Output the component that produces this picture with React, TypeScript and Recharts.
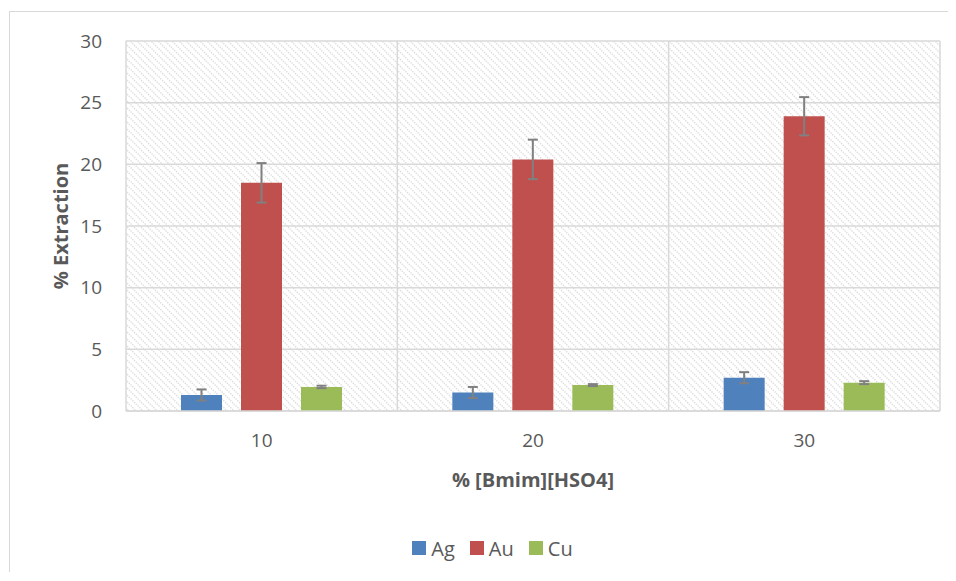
import React from 'react';
import { BarChart, Bar, XAxis, YAxis, CartesianGrid, ErrorBar, Legend } from 'recharts';

const categories = ['10', '20', '30'];
const agValues = [1.3, 1.5, 2.7];
const agErrors = [0.45, 0.45, 0.45];
const auValues = [18.5, 20.4, 23.9];
const auErrors = [1.6, 1.6, 1.55];
const cuValues = [1.95, 2.1, 2.3];
const cuErrors = [0.1, 0.08, 0.12];
const yTicks = [0, 5, 10, 15, 20, 25, 30];
const seriesNames = ['Ag', 'Au', 'Cu'];
const seriesColors = ['#4f81bd', '#c0504d', '#9bbb59'];

const data = categories.map((c, i) => ({
  category: c,
  Ag: agValues[i],
  agErr: agErrors[i],
  Au: auValues[i],
  auErr: auErrors[i],
  Cu: cuValues[i],
  cuErr: cuErrors[i],
}));

const FONT = "'Open Sans', sans-serif";
const TEXT = '#595959';
const GRID = '#d9d9d9';

const LegendContent = () => (
  <div style={{ display: 'flex', justifyContent: 'center', alignItems: 'center', height: 24, paddingLeft: 20, fontFamily: FONT, fontSize: 20, color: TEXT }}>
    {seriesNames.map((n, i) => (
      <div key={n} style={{ display: 'flex', alignItems: 'center', marginRight: i < seriesNames.length - 1 ? 15 : 0 }}>
        <div style={{ width: 14, height: 14, background: seriesColors[i], marginRight: 5 }} />
        <span>{n}</span>
      </div>
    ))}
  </div>
);

const YTitle = (props: any) => {
  const vb = props.viewBox || {};
  const cx = vb.x + 50;
  const cy = vb.y + vb.height / 2;
  return (
    <text x={cx} y={cy} transform={`rotate(-90, ${cx}, ${cy})`} textAnchor="middle" dominantBaseline="central"
      fontFamily={FONT} fontSize={20} fontWeight="bold" fill={TEXT}>
      % Extraction
    </text>
  );
};

export default function App() {
  return (
    <div style={{ paddingTop: 3, paddingLeft: 1 }}>
      <div style={{ borderTop: `1px solid ${GRID}`, borderLeft: `1px solid ${GRID}`, width: 945, height: 560 }}>
        <BarChart width={945} height={560} data={data} margin={{ top: 29, right: 15, left: 0, bottom: 57 }}
          barSize={41} barGap={19}>
          <defs>
            <pattern id="hatch" patternUnits="userSpaceOnUse" width="7" height="7">
              <path d="M-2,-2 L9,9 M-2,5 L2,9 M5,-2 L9,2" stroke="#dedede" strokeWidth="1.4" strokeDasharray="1.5 1" />
            </pattern>
          </defs>
          <CartesianGrid
            stroke={GRID}
            strokeWidth={1.5}
            fill="url(#hatch)"
            fillOpacity={1}
            verticalCoordinatesGenerator={({ offset }: any) => [
              offset.left,
              offset.left + offset.width / 3,
              offset.left + (2 * offset.width) / 3,
              offset.left + offset.width,
            ]}
          />
          <XAxis dataKey="category" height={80} tickLine={false} tickSize={0} tickMargin={23}
            axisLine={{ stroke: GRID, strokeWidth: 1.5 }}
            tick={{ fill: TEXT, fontSize: 19, fontFamily: FONT }}
            label={{ value: '% [Bmim][HSO4]', position: 'insideBottom', offset: 4, fill: TEXT, fontSize: 20, fontWeight: 'bold', fontFamily: FONT }}
          />
          <YAxis width={116} domain={[0, 30]} ticks={yTicks} axisLine={false} tickLine={false} tickSize={0} tickMargin={24}
            tick={{ fill: TEXT, fontSize: 19, fontFamily: FONT }}
            label={{ content: YTitle }}
          />
          <Legend verticalAlign="bottom" content={LegendContent}
            wrapperStyle={{ top: 524, bottom: 'auto', left: 0, width: 945 }} />
          <Bar dataKey="Ag" fill={seriesColors[0]} isAnimationActive={false}>
            <ErrorBar dataKey="agErr" width={5} strokeWidth={2} stroke="#808080" />
          </Bar>
          <Bar dataKey="Au" fill={seriesColors[1]} isAnimationActive={false}>
            <ErrorBar dataKey="auErr" width={5} strokeWidth={2} stroke="#808080" />
          </Bar>
          <Bar dataKey="Cu" fill={seriesColors[2]} isAnimationActive={false}>
            <ErrorBar dataKey="cuErr" width={5} strokeWidth={2} stroke="#808080" />
          </Bar>
        </BarChart>
      </div>
    </div>
  );
}
